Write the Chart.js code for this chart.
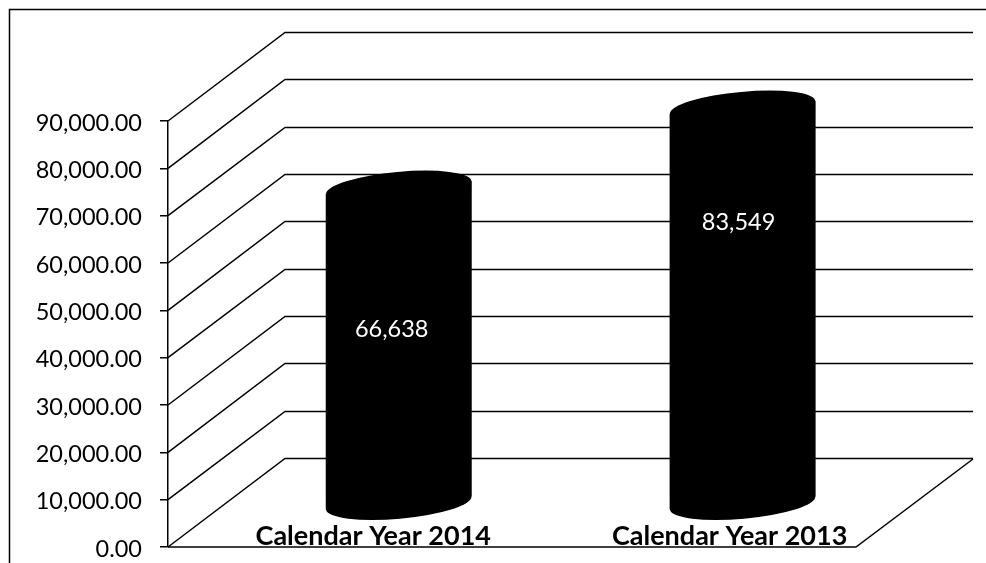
<!DOCTYPE html>
<html>
<head>
<meta charset="utf-8">
<title>Calendar year totals</title>
<script src="https://cdn.jsdelivr.net/npm/chart.js@4"></script>
<style>
    html, body { margin: 0; padding: 0; background: #fff; }
    canvas { display: block; }
</style>
</head>
<body>
<canvas id="chart" width="986" height="563"></canvas>
<script>
const categories = ["Calendar Year 2014", "Calendar Year 2013"];
const totals = [66638, 83549];
const yTickValues = [0, 10000, 20000, 30000, 40000, 50000, 60000, 70000, 80000, 90000];

// Draws the frame, the 3D walls and the cylinders, all from the chart scales
const cylinderPlugin = {
    id: "cylinder",
    beforeDatasetsDraw(chart, args, opts) {
        const ctx = chart.ctx;
        const y = chart.scales.y;
        const area = chart.chartArea;

        ctx.save();
        ctx.strokeStyle = "#000";
        ctx.lineWidth = 1.5;
        ctx.beginPath();
        ctx.moveTo(9.5, chart.height);
        ctx.lineTo(9.5, 9.5);
        ctx.lineTo(chart.width, 9.5);
        ctx.stroke();

        // back wall lines and the diagonals running to them
        yTickValues.forEach((value) => {
            const py = y.getPixelForValue(value);
            const backY = Math.round(py - opts.depthY) - 0.5;
            ctx.beginPath();
            ctx.moveTo(area.left, py);
            ctx.lineTo(area.left + opts.depthX, backY);
            ctx.lineTo(area.right, backY);
            ctx.stroke();
        });

        // floor
        const zero = y.getPixelForValue(0);
        ctx.beginPath();
        ctx.moveTo(area.left, zero);
        ctx.lineTo(area.right - opts.depthX, zero);
        ctx.lineTo(area.right, zero - opts.depthY);
        ctx.stroke();
        ctx.restore();
    },
    afterDatasetsDraw(chart, args, opts) {
        const ctx = chart.ctx;
        const bars = chart.getDatasetMeta(0).data;

        ctx.save();
        ctx.fillStyle = "#000";
        bars.forEach((bar, i) => {
            const rx = bar.width / 2;
            ctx.beginPath();
            ctx.moveTo(bar.x - rx, bar.y + opts.tilt);
            ctx.lineTo(bar.x + rx, bar.y - opts.tilt);
            ctx.lineTo(bar.x + rx, bar.base - opts.tilt);
            ctx.lineTo(bar.x - rx, bar.base + opts.tilt);
            ctx.closePath();
            ctx.fill();
            [bar.y, bar.base].forEach((cy) => {
                ctx.beginPath();
                ctx.ellipse(bar.x, cy, rx, opts.capHeight, opts.rotation, 0, Math.PI * 2);
                ctx.fill();
            });
        });

        ctx.fillStyle = "#fff";
        ctx.font = "23.5px Lato";
        ctx.textAlign = "center";
        ctx.textBaseline = "middle";
        bars.forEach((bar, i) => {
            const shift = opts.labelShift[i];
            const text = totals[i].toLocaleString("en-US");
            ctx.fillText(text, bar.x + shift.x, (bar.y + bar.base) / 2 + shift.y);
        });
        ctx.restore();
    },
};

new Chart(document.getElementById("chart"), {
    type: "bar",
    data: {
        datasets: [
            {
                label: "Total",
                data: totals.map((value, i) => ({ x: i, y: value })),
                xAxisID: "xBar",
                yAxisID: "yBar",
                backgroundColor: "rgba(0,0,0,0)",
                barThickness: 146,
            },
        ],
    },
    options: {
        responsive: false,
        animation: false,
        layout: { padding: { top: 121, right: 13 } },
        plugins: {
            legend: { display: false },
            tooltip: { enabled: false },
            cylinder: {
                depthX: 117,
                depthY: 88,
                tilt: 6.4,
                capHeight: 15.7,
                rotation: -0.09,
                labelShift: [
                    { x: -7, y: -16 },
                    { x: -4, y: -83 },
                ],
            },
        },
        scales: {
            x: {
                type: "linear",
                position: "bottom",
                offset: false,
                min: -0.576,
                max: 1.683,
                grid: { display: false, drawTicks: false },
                border: { display: false },
                afterBuildTicks(axis) {
                    axis.ticks = categories.map((name, i) => ({ value: i }));
                },
                afterFit(axis) {
                    axis.height = 16;
                },
                ticks: {
                    autoSkip: false,
                    maxRotation: 0,
                    mirror: true,
                    padding: -5,
                    color: "#000",
                    font: { family: "Lato", size: 27, weight: "bold" },
                    callback: (value) => categories[value],
                },
            },
            xBar: {
                type: "linear",
                display: false,
                offset: false,
                min: -0.671,
                max: 1.67,
            },
            y: {
                min: 0,
                max: 90000,
                grid: { drawOnChartArea: false, tickLength: 8, color: "#000", lineWidth: 1.5 },
                border: { color: "#000", width: 1.5 },
                afterBuildTicks(axis) {
                    axis.ticks = yTickValues.map((value) => ({ value }));
                },
                afterFit(axis) {
                    axis.width = 168;
                    axis.paddingBottom = 0;
                    axis.paddingTop = 0;
                },
                ticks: {
                    padding: 18,
                    labelOffset: 2,
                    color: "#000",
                    font: { family: "Lato", size: 23.5 },
                    callback: (value) =>
                        value.toLocaleString("en-US", { minimumFractionDigits: 2, maximumFractionDigits: 2 }),
                },
            },
            yBar: {
                display: false,
                min: -9296,
                max: 80704,
            },
        },
    },
    plugins: [cylinderPlugin],
});
</script>
</body>
</html>
